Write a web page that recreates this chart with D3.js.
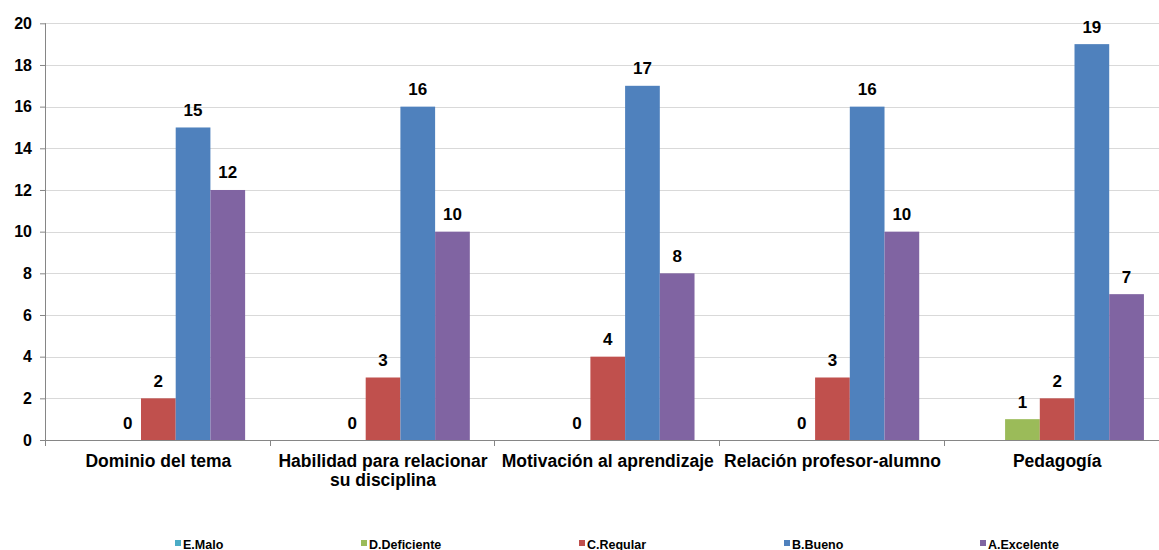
<!DOCTYPE html>
<html>
<head>
<meta charset="utf-8">
<script src="https://cdnjs.cloudflare.com/ajax/libs/d3/7.8.5/d3.min.js"></script>
<style>
  html, body { margin: 0; padding: 0; background: #fff; }
  svg { display: block; font-family: "Liberation Sans", Arial, sans-serif; }
</style>
</head>
<body>
<svg id="chart" width="1159" height="550"></svg>
<script>
const categories = ["Dominio del tema", "Habilidad para relacionar su disciplina", "Motivación al aprendizaje", "Relación profesor-alumno", "Pedagogía"];
const categoryLines = [["Dominio del tema"], ["Habilidad para relacionar", "su disciplina"], ["Motivación al aprendizaje"], ["Relación profesor-alumno"], ["Pedagogía"]];
const seriesNames = ["E.Malo", "D.Deficiente", "C.Regular", "B.Bueno", "A.Excelente"];
const seriesColors = ["#4BACC6", "#9BBB59", "#C0504D", "#4F81BD", "#8064A2"];
const eMalo = [null, null, null, null, null];
const dDeficiente = [0, 0, 0, 0, 1];
const cRegular = [2, 3, 4, 3, 2];
const bBueno = [15, 16, 17, 16, 19];
const aExcelente = [12, 10, 8, 10, 7];
const yTicks = [0, 2, 4, 6, 8, 10, 12, 14, 16, 18, 20];
const seriesValues = [eMalo, dDeficiente, cRegular, bBueno, aExcelente];

(function () {
const svg = d3.select("#chart");
const mLeft = 46, mRight = 1169.5, mTop = 23.3, mBottom = 440;

const x0 = d3.scaleBand().domain(categories).range([mLeft, mRight]).paddingInner(0).paddingOuter(0);
const x1 = d3.scaleBand().domain(seriesNames).range([0, x0.bandwidth()]).paddingInner(0).paddingOuter(0.737);
const y = d3.scaleLinear().domain([0, 20]).range([mBottom, mTop]);

const points = [];
seriesNames.forEach((s, si) => categories.forEach((c, ci) => {
  const v = seriesValues[si][ci];
  if (v !== null) points.push({ s, si, c, v });
}));

// gridlines
svg.append("g").selectAll("line").data(yTicks.filter(d => d > 0)).join("line")
  .attr("x1", mLeft).attr("x2", mRight)
  .attr("y1", d => Math.round(y(d)) + 0.5).attr("y2", d => Math.round(y(d)) + 0.5)
  .attr("stroke", "#d9d9d9").attr("stroke-width", 1);

// y axis
const yAxis = d3.axisLeft(y).tickValues(yTicks).tickSize(6).tickPadding(8).tickFormat(d3.format("d"));
const gy = svg.append("g").attr("transform", `translate(${mLeft},0)`).call(yAxis);
gy.select(".domain").attr("stroke", "#868686").attr("d", `M-0.5,${mTop}V${mBottom}`);
gy.selectAll(".tick line").attr("stroke", "#868686");
gy.selectAll(".tick text").attr("font-size", 16).attr("font-weight", "bold").attr("fill", "#000");

// bars
svg.append("g").selectAll("rect").data(points.filter(p => p.v > 0)).join("rect")
  .attr("x", p => x0(p.c) + x1(p.s))
  .attr("width", x1.bandwidth())
  .attr("y", p => y(p.v))
  .attr("height", p => mBottom - y(p.v))
  .attr("fill", p => seriesColors[p.si]);

// data labels
svg.append("g").selectAll("text").data(points).join("text")
  .attr("x", p => x0(p.c) + x1(p.s) + x1.bandwidth() / 2 + (p.v === 0 ? 4 : 0))
  .attr("y", p => y(p.v) - 11.5)
  .attr("text-anchor", "middle")
  .attr("font-size", 17).attr("font-weight", "bold").attr("fill", "#000")
  .text(p => p.v);

// x axis
svg.append("line").attr("x1", mLeft).attr("x2", mRight).attr("y1", mBottom + 0.5).attr("y2", mBottom + 0.5)
  .attr("stroke", "#868686");
const bounds = categories.map(c => x0(c)).concat([mRight]);
svg.append("g").selectAll("line").data(bounds).join("line")
  .attr("x1", d => Math.round(d) - 0.5).attr("x2", d => Math.round(d) - 0.5)
  .attr("y1", mBottom).attr("y2", mBottom + 6).attr("stroke", "#868686");

categories.forEach((c, ci) => {
  const cx = x0(c) + x0.bandwidth() / 2;
  const t = svg.append("text")
    .attr("x", cx).attr("y", 467)
    .attr("text-anchor", "middle")
    .attr("font-size", 17.5).attr("font-weight", "bold").attr("fill", "#000");
  categoryLines[ci].forEach((ln, li) => {
    t.append("tspan").attr("x", cx).attr("dy", li === 0 ? 0 : 19).text(ln);
  });
});

// legend
const legendX = [175, 361, 579, 784, 980];
const lg = svg.append("g").selectAll("g").data(seriesNames).join("g")
  .attr("transform", (d, i) => `translate(${legendX[i]},540)`);
lg.append("rect").attr("x", 0).attr("y", 0).attr("width", 6).attr("height", 6)
  .attr("fill", (d, i) => seriesColors[i]);
lg.append("text").attr("x", 8).attr("y", 8.5)
  .attr("font-size", 12.5).attr("font-weight", "bold").attr("fill", "#000")
  .text(d => d);
})();
</script>
</body>
</html>
